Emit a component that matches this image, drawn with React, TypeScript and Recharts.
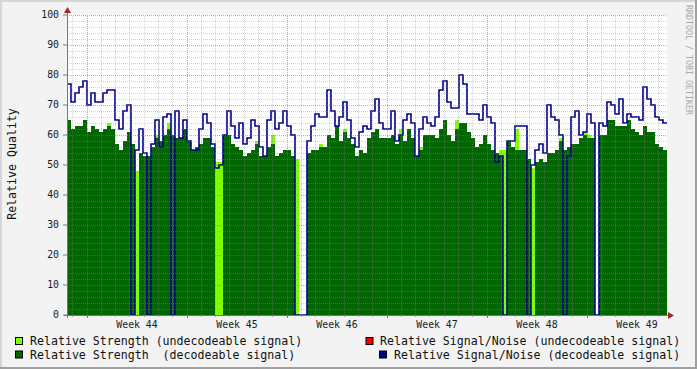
import React from "react";
import {
  ComposedChart,
  Area,
  Line,
  XAxis,
  YAxis,
  CartesianGrid,
  ReferenceLine,
} from "recharts";

// one sample every 4 px of the original graph: 25 samples a week, week 44 starts at sample 5
const weeks = ["Week 44", "Week 45", "Week 46", "Week 47", "Week 48", "Week 49"];

const snDecodeable = [
  77, 71, 74, 76, 78, 70, 74, 71, 71, 74,
  75, 75, 65, 62, 68, 70, 0, 55, 62, 54,
  0, 57, 65, 56, 66, 67, 0, 68, 59, 65,
  58, 55, 55, 62, 67, 64, 57, 49, 50, 60,
  68, 63, 59, 64, 57, 59, 65, 63, 56, 53,
  65, 68, 62, 64, 68, 63, 60, 0, 0, 0,
  58, 63, 67, 66, 66, 75, 68, 63, 66, 71,
  65, 59, 56, 61, 63, 62, 68, 72, 64, 62,
  62, 68, 58, 60, 65, 67, 64, 53, 62, 66,
  64, 63, 66, 75, 78, 71, 69, 69, 80, 77,
  67, 67, 67, 65, 70, 66, 64, 51, 53, 0,
  58, 58, 63, 63, 63, 0, 50, 55, 57, 54,
  70, 66, 65, 60, 0, 53, 66, 68, 60, 61,
  67, 64, 0, 64, 63, 71, 70, 67, 72, 64,
  67, 66, 66, 65, 76, 72, 70, 66, 65, 64,
];

const rsDecodeable = [
  65, 62, 63, 63, 65, 61, 63, 62, 61, 62,
  63, 62, 57, 55, 58, 61, 57, 0, 54, 53,
  53, 56, 59, 58, 60, 62, 60, 59, 59, 62,
  58, 55, 56, 57, 59, 59, 56, 0, 0, 60,
  60, 57, 56, 55, 53, 54, 55, 57, 53, 53,
  56, 57, 53, 54, 55, 55, 53, 0, 0, 0,
  54, 55, 55, 56, 56, 60, 59, 63, 58, 61,
  59, 57, 53, 55, 54, 59, 61, 62, 59, 59,
  59, 60, 57, 60, 58, 62, 59, 53, 55, 60,
  60, 60, 59, 62, 65, 60, 58, 62, 64, 64,
  61, 59, 56, 57, 60, 57, 55, 54, 53, 0,
  58, 56, 55, 55, 55, 52, 0, 51, 52, 51,
  54, 54, 55, 58, 55, 56, 57, 57, 59, 60,
  59, 59, 0, 60, 60, 65, 65, 63, 63, 63,
  65, 62, 61, 60, 63, 61, 61, 57, 56, 55,
];

const rsUndecodeable = [
  0, 0, 0, 0, 0, 0, 0, 0, 0, 0,
  64, 0, 0, 0, 0, 0, 0, 48, 0, 0,
  0, 0, 60, 0, 0, 64, 0, 0, 0, 0,
  0, 0, 0, 0, 0, 0, 0, 51, 51, 0,
  0, 0, 0, 0, 0, 0, 0, 58, 0, 0,
  0, 60, 0, 0, 0, 0, 0, 52, 0, 0,
  0, 0, 0, 57, 0, 0, 0, 0, 0, 62,
  0, 0, 0, 0, 0, 0, 0, 0, 0, 0,
  0, 0, 0, 62, 0, 0, 0, 0, 56, 0,
  0, 0, 0, 0, 0, 0, 0, 65, 0, 0,
  0, 0, 0, 0, 0, 0, 0, 0, 55, 55,
  0, 0, 62, 0, 0, 0, 49, 0, 0, 0,
  0, 0, 0, 59, 0, 0, 0, 0, 0, 61,
  60, 0, 0, 0, 0, 0, 0, 0, 0, 0,
  0, 0, 0, 0, 0, 0, 0, 0, 0, 0,
];

const yTicks = [0, 10, 20, 30, 40, 50, 60, 70, 80, 90, 100];

const SAMPLES = snDecodeable.length;
const WEEK = 25;
const DAY = WEEK / 7;
const FIRST_WEEK = 5;

const rows = snDecodeable.map((sn, i) => ({
  t: i,
  sn,
  rs: rsDecodeable[i],
  ru: rsUndecodeable[i],
}));
// repeat the last sample so the final step gets its width
rows.push({ ...rows[rows.length - 1], t: SAMPLES });

const weekTicks = weeks.map((_, k) => FIRST_WEEK + k * WEEK + WEEK / 2);
const majorX = weeks.map((_, k) => FIRST_WEEK + k * WEEK);
const minorX: number[] = [];
for (let d = FIRST_WEEK - DAY; d < SAMPLES; d += DAY) {
  if (!majorX.some((m) => Math.abs(m - d) < 0.01)) minorX.push(d);
}
const majorY = yTicks.filter((v) => v > 0);
const minorY: number[] = [];
for (let v = 2; v < 100; v += 2) if (v % 10 !== 0) minorY.push(v);

const MONO = "'DejaVu Sans Mono', monospace";
const GRID = "rgba(140,140,140,0.4)";
const MGRID = "rgba(215,70,70,0.55)";

const legendStyle: React.CSSProperties = {
  fontFamily: MONO,
  fontSize: 11.6,
  fill: "#111",
  whiteSpace: "pre",
};

export default function App() {
  return (
    <div style={styles.frame}>
      <ComposedChart
        width={697}
        height={369}
        data={rows}
        margin={{ top: 15, right: 30, bottom: 24, left: 7 }}
        style={{ position: "absolute", left: 0, top: 0 }}
      >
        <CartesianGrid horizontal={false} vertical={false} fill="#ffffff" />
        <XAxis
          dataKey="t"
          type="number"
          domain={[0, SAMPLES]}
          ticks={weekTicks}
          interval={0}
          tickFormatter={(_, i) => weeks[i]}
          axisLine={false}
          tickLine={false}
          tickSize={0}
          tickMargin={6}
          height={30}
          tick={{ fill: "#1a1a1a", fontSize: 9.8, fontFamily: MONO }}
        />
        <YAxis
          type="number"
          domain={[0, 100]}
          ticks={yTicks}
          interval={0}
          width={60}
          axisLine={false}
          tickLine={{ stroke: "#777" }}
          tickSize={4}
          tickMargin={4}
          tick={{ fill: "#1a1a1a", fontSize: 9.8, fontFamily: MONO }}
        />
        <Area
          dataKey="ru"
          type="stepAfter"
          fill="#7fff00"
          fillOpacity={1}
          stroke="none"
          dot={false}
          activeDot={false}
          isAnimationActive={false}
        />
        <Area
          dataKey="rs"
          type="stepAfter"
          fill="#006600"
          fillOpacity={1}
          stroke="none"
          dot={false}
          activeDot={false}
          isAnimationActive={false}
        />
        <Line
          dataKey="sn"
          type="stepAfter"
          stroke="#00008c"
          strokeWidth={1.6}
          dot={false}
          activeDot={false}
          isAnimationActive={false}
        />
        {minorY.map((v) => (
          <ReferenceLine
            key={"my" + v}
            y={v}
            stroke={GRID}
            strokeDasharray="1 1"
            shapeRendering="crispEdges"
          />
        ))}
        {minorX.map((v) => (
          <ReferenceLine
            key={"mx" + v}
            x={v}
            stroke={GRID}
            strokeDasharray="1 1"
            shapeRendering="crispEdges"
          />
        ))}
        {majorY.map((v) => (
          <ReferenceLine
            key={"My" + v}
            y={v}
            stroke={MGRID}
            strokeDasharray="1 1"
            shapeRendering="crispEdges"
          />
        ))}
        {majorX.map((v) => (
          <ReferenceLine
            key={"Mx" + v}
            x={v}
            stroke={MGRID}
            strokeDasharray="1 1"
            shapeRendering="crispEdges"
          />
        ))}
        {minorX.map((v) => (
          <ReferenceLine
            key={"tx" + v}
            segment={[{ x: v, y: 0 }, { x: v, y: -0.7 }]}
            ifOverflow="visible"
            stroke="#aaa"
            shapeRendering="crispEdges"
          />
        ))}
        {majorX.map((v) => (
          <ReferenceLine
            key={"Tx" + v}
            segment={[{ x: v, y: 0 }, { x: v, y: -1 }]}
            ifOverflow="visible"
            stroke="#d05050"
            shapeRendering="crispEdges"
          />
        ))}
      </ComposedChart>

      <svg width={697} height={369} style={styles.overlay}>
        <line x1={67.5} y1={10} x2={67.5} y2={318} stroke="#777" />
        <line x1={64} y1={315.5} x2={670} y2={315.5} stroke="#777" />
        <polygon points="64,13 71,13 67.5,7" fill="#a02828" />
        <polygon points="668,312 668,319 674,315.5" fill="#a02828" />
        <text
          x={12}
          y={164}
          transform="rotate(-90 12 164)"
          textAnchor="middle"
          dominantBaseline="central"
          style={legendStyle}
        >
          Relative Quality
        </text>
        <text
          x={686}
          y={5}
          transform="rotate(90 686 5)"
          style={{ fontFamily: MONO, fontSize: 8.3, fill: "#a8a8a8" }}
        >
          RRDTOOL / TOBI OETIKER
        </text>

        <rect x={15.5} y={337.5} width={7} height={7} fill="#7fff00" stroke="#000" />
        <text x={30} y={345} style={legendStyle}>
          Relative Strength (undecodeable signal)
        </text>
        <rect x={15.5} y={351} width={7} height={7} fill="#006600" stroke="#000" />
        <text x={30} y={358.5} style={legendStyle}>
          Relative Strength  (decodeable signal)
        </text>
        <rect x={366} y={337.5} width={7} height={7} fill="#ff0000" stroke="#000" />
        <text x={380} y={345} style={legendStyle}>
          Relative Signal/Noise (undecodeable signal)
        </text>
        <rect x={379.5} y={351} width={7} height={7} fill="#00008c" stroke="#000" />
        <text x={394} y={358.5} style={legendStyle}>
          Relative Signal/Noise (decodeable signal)
        </text>
      </svg>
    </div>
  );
}

const styles: Record<string, React.CSSProperties> = {
  frame: {
    position: "absolute",
    left: 0,
    top: 0,
    width: 697,
    height: 369,
    background: "#f3f3f3",
    boxShadow: "inset -2px -2px 0 #a0a0a0, inset 2px 2px 0 #d6d6d6",
    overflow: "hidden",
  },
  overlay: {
    position: "absolute",
    left: 0,
    top: 0,
    pointerEvents: "none",
  },
};
